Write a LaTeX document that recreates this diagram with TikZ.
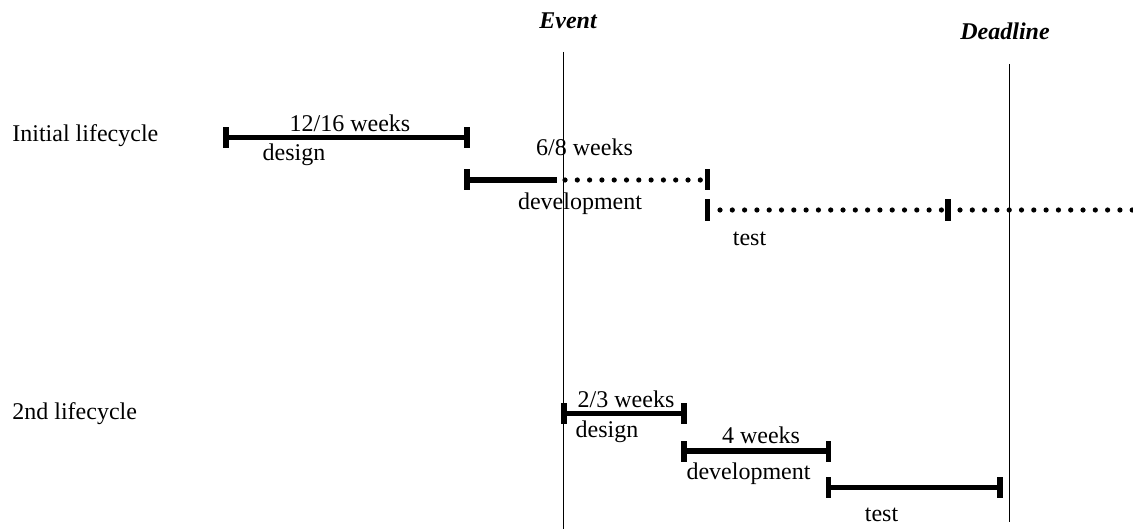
\documentclass[tikz,border=0pt]{standalone}
\usepackage{fontspec}
\setmainfont{Liberation Serif}
\begin{document}
\begin{tikzpicture}[x=0.5pt,y=-0.5pt,
  font=\fontsize{12}{14}\selectfont,
  txt/.style={anchor=base,inner sep=0pt},
  hdr/.style={txt,font=\fontsize{12}{14}\selectfont\bfseries\itshape},
  tick/.style={fill=black,inner sep=0pt,minimum width=2.8pt,minimum height=10.5pt},
  bar/.style={line width=2.7pt},
  dots/.style={line width=2.6pt,line cap=round,dash pattern=on 0pt off 6.15pt},
  marker/.style={line width=0.65pt}]
\useasboundingbox (0,0) rectangle (1133,529);

% milestone lines
\node[hdr] (event) at (568,29) {Event};
\node[hdr] (deadline) at (1005,40) {Deadline};
\coordinate (ev1) at (563.5,52);
\coordinate (ev2) at (563.5,529);
\coordinate (dl1) at (1009.5,64);
\coordinate (dl2) at (1009.5,522);
\draw[marker] (ev1) -- (ev2);
\draw[marker] (dl1) -- (dl2);

% row labels
\node[txt,anchor=base west] (init) at (12,142) {Initial lifecycle};
\node[txt,anchor=base west] (second) at (12,419) {2nd lifecycle};

% initial lifecycle: design
\node[tick] (a1) at (226,137.5) {};
\node[tick] (a2) at (467,137.5) {};
\draw[bar] (a1.center) -- (a2.center);
\node[txt] (a1t) at (350,132) {12/16 weeks};
\node[txt] (a1b) at (294,161) {design};

% initial lifecycle: development
\node[tick] (b1) at (467,180) {};
\node[tick] (b2) at (707.5,180) {};
\coordinate (bs) at (557,180);
\coordinate (bd) at (565,180);
\draw[bar] (b1.center) -- (bs);
\draw[dots] (bd) -- (b2.west);
\node[txt] (b1t) at (584.5,156) {6/8 weeks};
\node[txt] (b1b) at (580,210) {development};

% initial lifecycle: test
\node[tick] (c1) at (707.5,210) {};
\node[tick] (c2) at (948,210) {};
\coordinate (cd) at (720,210);
\coordinate (ce) at (1133,210);
\draw[dots] (cd) -- (c2.west);
\coordinate (cf) at (960,210);
\draw[dots] (cf) -- (ce);
\node[txt] (c1b) at (749.5,245) {test};

% 2nd lifecycle: design
\node[tick] (d1) at (564,413.5) {};
\node[tick] (d2) at (684,413.5) {};
\draw[bar] (d1.center) -- (d2.center);
\node[txt] (d1t) at (626,407) {2/3 weeks};
\node[txt] (d1b) at (607,437) {design};

% 2nd lifecycle: development
\node[tick] (e1) at (684,451) {};
\node[tick] (e2) at (828.5,451) {};
\draw[bar] (e1.center) -- (e2.center);
\node[txt] (e1t) at (761,443) {4 weeks};
\node[txt] (e1b) at (748.5,479) {development};

% 2nd lifecycle: test
\node[tick] (f1) at (828.5,487.5) {};
\node[tick] (f2) at (1000,487.5) {};
\draw[bar] (f1.center) -- (f2.center);
\node[txt] (f1b) at (881.5,521) {test};
\end{tikzpicture}
\end{document}
